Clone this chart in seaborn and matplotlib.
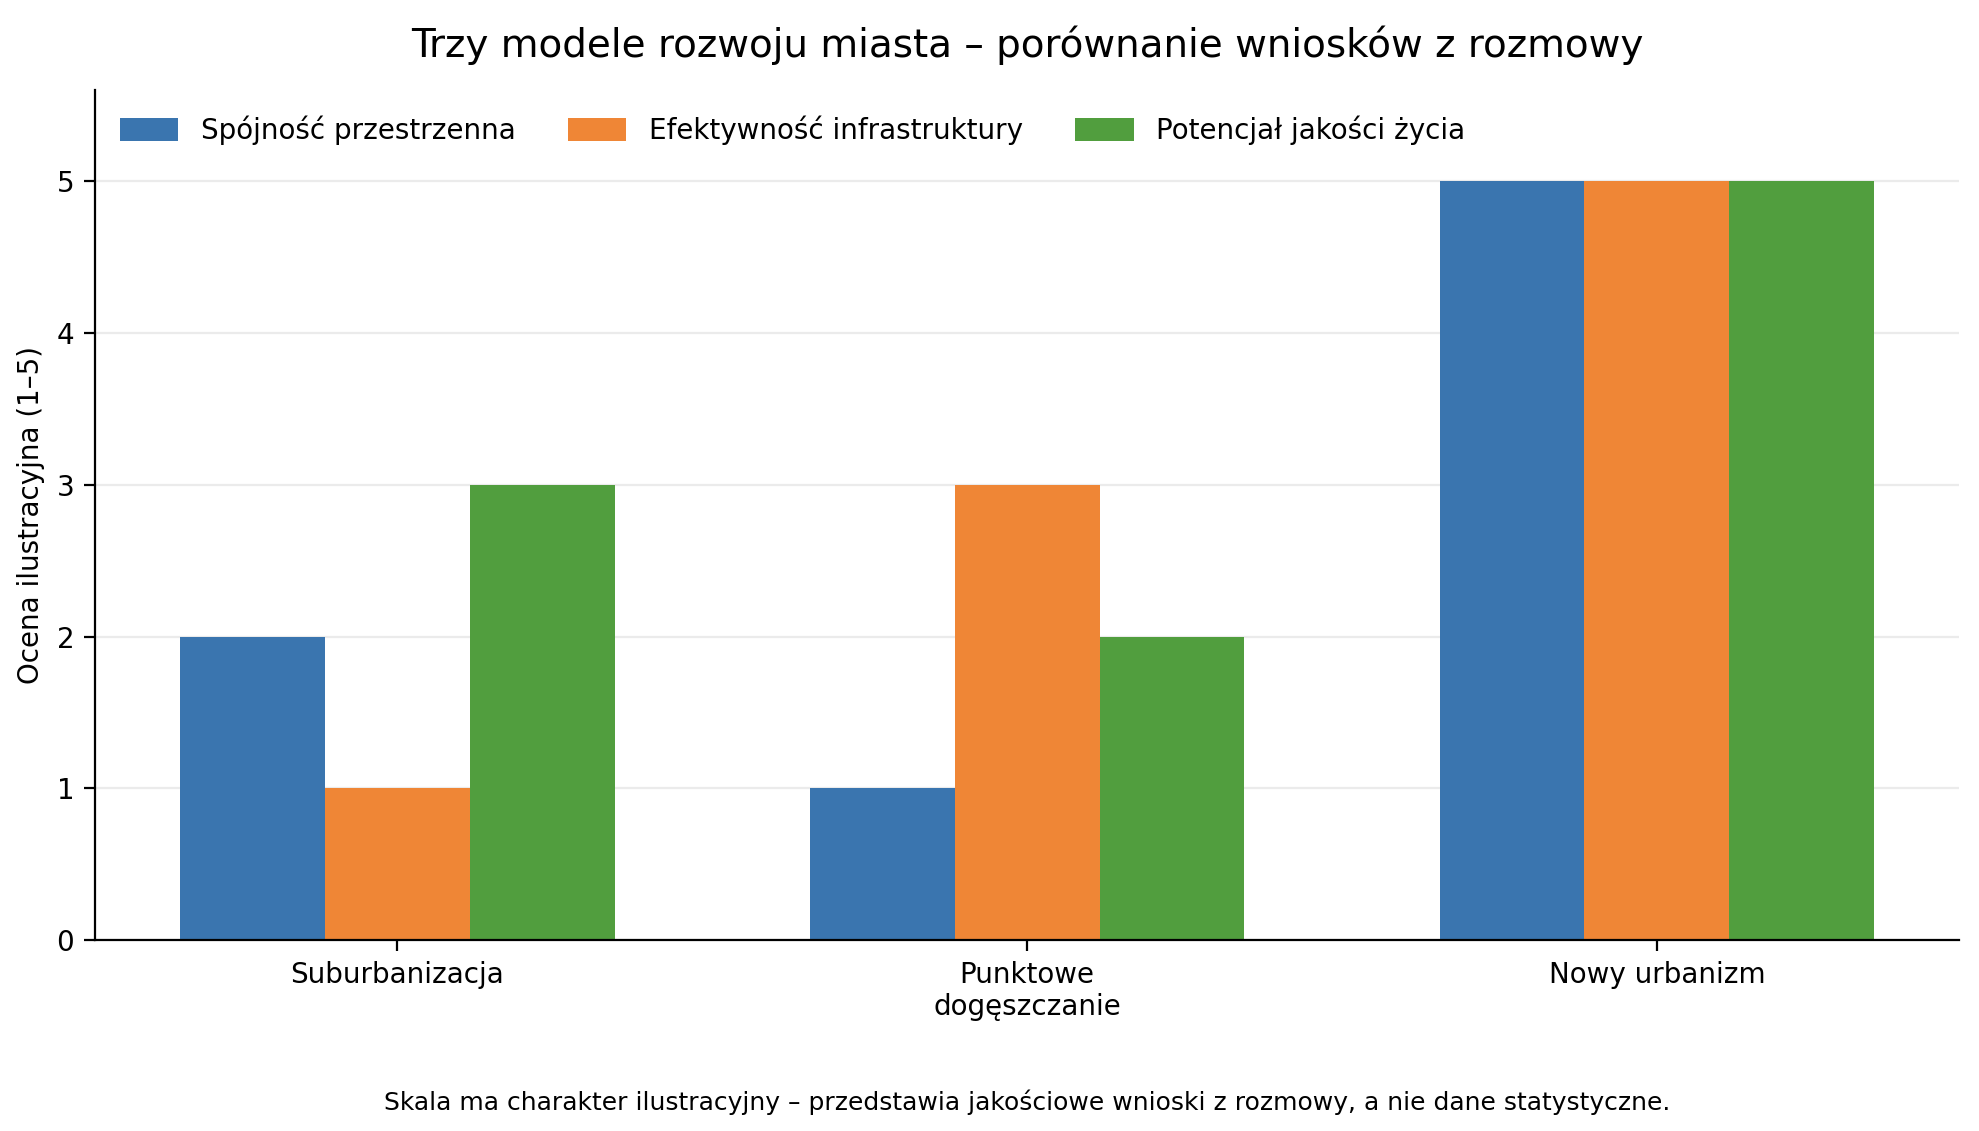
import numpy as np
import pandas as pd
import seaborn as sns
import matplotlib.pyplot as plt

# Data
models = ['Suburbanizacja', 'Punktowe\ndogęszczanie', 'Nowy urbanizm']
criteria = ['Spójność przestrzenna', 'Efektywność infrastruktury', 'Potencjał jakości życia']
spojnosc = [2, 1, 5]
efektywnosc = [1, 3, 5]
jakosc = [3, 2, 5]
colors = ['#3a75af', '#ef8636', '#519e3e']

df = pd.DataFrame({
    'model': models * 3,
    'kryterium': [c for c in criteria for _ in models],
    'ocena': spojnosc + efektywnosc + jakosc,
})

plt.rcParams['font.family'] = ['DejaVu Sans']

fig, ax = plt.subplots(figsize=(9.895, 5.655), dpi=200)
sns.barplot(data=df, x='model', y='ocena', hue='kryterium',
            palette=colors, saturation=1, width=0.69, gap=0,
            linewidth=0, order=models, hue_order=criteria, ax=ax, zorder=2)

ax.set_ylim(0, 5.6)
ax.set_xlim(-0.48, 2.48)
ax.set_yticks([0, 1, 2, 3, 4, 5])
ax.yaxis.grid(True, color='#ebebeb', linewidth=0.8, zorder=0)
ax.set_axisbelow(True)
ax.set_xlabel('')
ax.set_ylabel('Ocena ilustracyjna (1–5)', fontsize=10)
ax.tick_params(axis='both', labelsize=10, length=4, width=0.8)
sns.despine(ax=ax)

ax.legend(loc='upper left', ncol=3, frameon=False, fontsize=10,
          columnspacing=1.9, handlelength=2.1, handleheight=0.9,
          bbox_to_anchor=(0.0, 1.0))

ax.set_title('Trzy modele rozwoju miasta – porównanie wniosków z rozmowy',
             fontsize=14, pad=12)
fig.text(0.519, 0.025,
         'Skala ma charakter ilustracyjny – przedstawia jakościowe wnioski z rozmowy, a nie dane statystyczne.',
         ha='center', va='center', fontsize=9)

fig.subplots_adjust(left=0.048, right=0.99, top=0.92, bottom=0.169)
fig.savefig('out.png', dpi=200)
